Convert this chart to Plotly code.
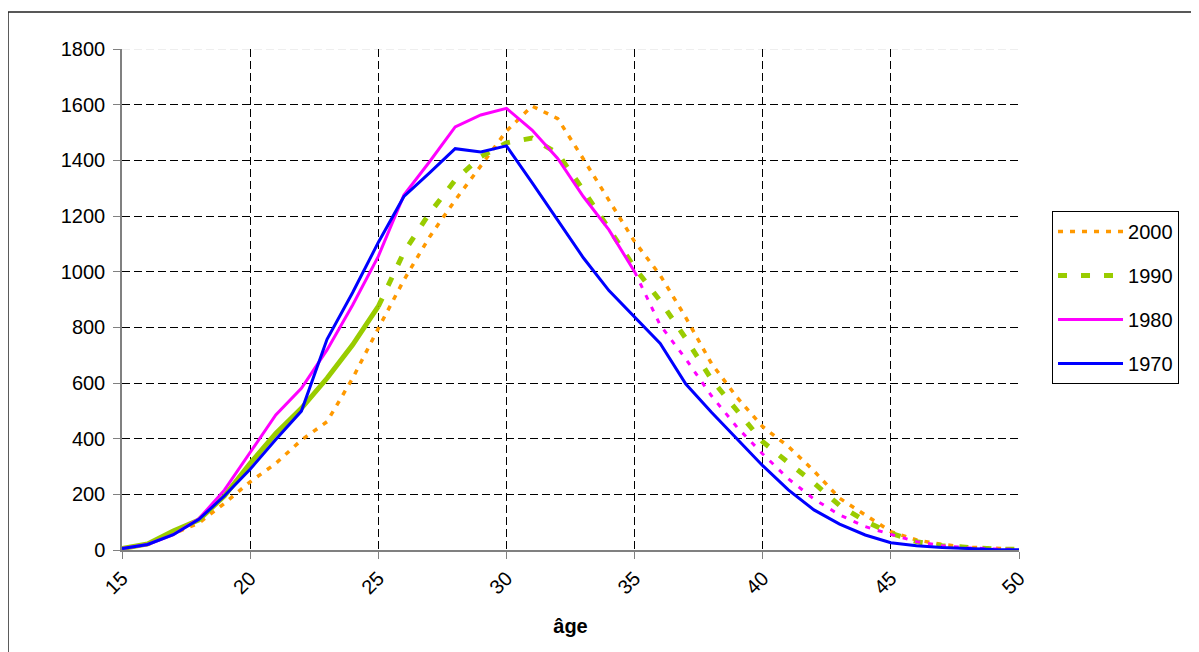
import plotly.graph_objects as go

ages = list(range(15, 51))

y2000 = [5, 20, 58, 97, 168, 245, 311, 395, 461, 617, 796, 970, 1125, 1257, 1380, 1505,
         1595, 1550, 1405, 1255, 1108, 987, 835, 670, 548, 443, 372, 284, 186, 126, 66,
         36, 20, 10, 5, 3]
y1990 = [5, 22, 68, 108, 195, 311, 419, 509, 617, 737, 875, 1070, 1210, 1329, 1413, 1463,
         1480, 1425, 1293, 1150, 1015, 895, 760, 613, 500, 389, 314, 241, 160, 104, 60,
         30, 15, 8, 4, 2]
y1980 = [5, 20, 55, 112, 216, 350, 485, 581, 719, 880, 1055, 1275, 1395, 1520, 1563, 1587,
         1509, 1407, 1270, 1150, 1000, 808, 686, 554, 441, 345, 256, 183, 126, 84, 56,
         30, 15, 8, 4, 2]
y1970 = [5, 20, 55, 110, 195, 290, 397, 499, 757, 925, 1105, 1270, 1355, 1442, 1430, 1452,
         1320, 1185, 1050, 932, 836, 742, 596, 495, 399, 303, 216, 144, 93, 54, 26,
         15, 9, 5, 2, 1]

colors = {"2000": "#FF9900", "1990": "#99CC00", "1980": "#FF00FF", "1970": "#0000FF"}

x_ticks = [15, 20, 25, 30, 35, 40, 45, 50]
x_grid = [20, 25, 30, 35, 40, 45]
y_ticks = [0, 200, 400, 600, 800, 1000, 1200, 1400, 1600, 1800]
y_grid = [200, 400, 600, 800, 1000, 1200, 1400, 1600]

FONT = "Arial, 'Liberation Sans', sans-serif"
FS = 20

i25 = ages.index(25)
i35 = ages.index(35)

fig = go.Figure()

fig.add_trace(go.Scatter(x=ages, y=y2000, name="2000", mode="lines",
                         line=dict(color=colors["2000"], width=3.5, dash="5px,7px"),
                         legendgroup="a"))
fig.add_trace(go.Scatter(x=ages[:i25 + 1], y=y1990[:i25 + 1], name="1990", mode="lines",
                         line=dict(color=colors["1990"], width=5), showlegend=False,
                         legendgroup="b"))
fig.add_trace(go.Scatter(x=ages[i25:], y=y1990[i25:], name="1990", mode="lines",
                         line=dict(color=colors["1990"], width=5, dash="9px,14px"),
                         legendgroup="b"))
fig.add_trace(go.Scatter(x=ages[:i35 + 1], y=y1980[:i35 + 1], name="1980", mode="lines",
                         line=dict(color=colors["1980"], width=3),
                         legendgroup="c"))
fig.add_trace(go.Scatter(x=ages[i35:], y=y1980[i35:], name="1980", mode="lines",
                         line=dict(color=colors["1980"], width=3, dash="5px,8px"),
                         showlegend=False, legendgroup="c"))
fig.add_trace(go.Scatter(x=ages, y=y1970, name="1970", mode="lines",
                         line=dict(color=colors["1970"], width=3),
                         legendgroup="d"))

grid_style = dict(showgrid=True, gridcolor="black", gridwidth=1, griddash="8px,4px",
                  ticks="")

fig.update_layout(
    width=1199, height=652,
    margin=dict(l=114, r=188, t=41, b=110),
    paper_bgcolor="white", plot_bgcolor="white",
    font=dict(family=FONT, size=FS, color="black"),
    showlegend=True,
    legend=dict(x=1.0368, y=0.6767, xanchor="left", yanchor="top",
                bordercolor="black", borderwidth=1, bgcolor="white",
                font=dict(family=FONT, size=FS, color="black"),
                traceorder="grouped", tracegroupgap=15, itemwidth=65),
    xaxis=dict(range=[15, 50], tickvals=x_ticks, ticktext=[str(v) for v in x_ticks],
               tickangle=-45, ticks="outside", ticklen=7, tickcolor="#808080",
               showline=True, linecolor="#808080", linewidth=1.5,
               showgrid=False, zeroline=False,
               minor=dict(tickvals=x_grid, **grid_style),
               title=dict(text="<b>âge</b>", font=dict(family=FONT, size=FS), standoff=22),
               tickfont=dict(family=FONT, size=FS)),
    yaxis=dict(range=[0, 1800], tickvals=y_ticks, ticks="outside", ticklen=7,
               tickcolor="#808080", showline=True, linecolor="#808080", linewidth=1.5,
               showgrid=False, zeroline=False, ticklabelstandoff=4,
               minor=dict(tickvals=y_grid, **grid_style),
               tickfont=dict(family=FONT, size=FS)),
    shapes=[
        dict(type="rect", xref="paper", yref="paper",
             x0=-0.1271, x1=1.25, y0=-0.25, y1=1.0739,
             line=dict(color="#222222", width=1.5), layer="below"),
        dict(type="line", xref="paper", yref="y", x0=0, x1=1,
             y0=y_ticks[-1], y1=y_ticks[-1],
             line=dict(color="#dddddd", width=1, dash="8px,4px"), layer="below"),
    ],
)

fig.write_html("out.html")
